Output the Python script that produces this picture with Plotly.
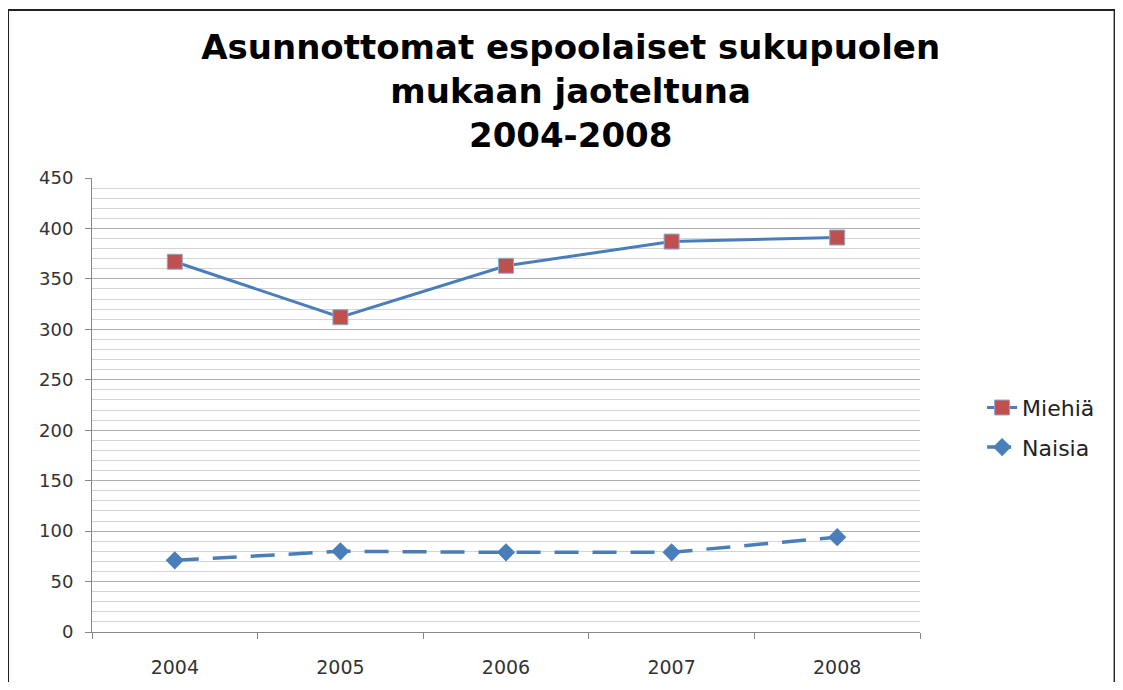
import plotly.graph_objects as go

years = ["2004", "2005", "2006", "2007", "2008"]
miehia = [367, 312, 363, 387, 391]
naisia = [71, 80, 79, 79, 94]

title_text = "Asunnottomat espoolaiset sukupuolen<br>mukaan jaoteltuna<br>2004-2008"

blue = "#4A7EBB"
red = "#C0504D"

fig = go.Figure()
fig.add_trace(go.Scatter(
    x=years, y=miehia, name="Miehiä", mode="lines+markers", legendgroup="m",
    line=dict(color=blue, width=3),
    marker=dict(symbol="square", size=15, color=red, line=dict(color="#8EA9D6", width=1)),
))
fig.add_trace(go.Scatter(
    x=years, y=naisia, name="Naisia", mode="lines+markers", legendgroup="n",
    line=dict(color=blue, width=3.5, dash="24px,14px"),
    marker=dict(symbol="diamond", size=14, color=blue),
))

fig.update_layout(
    width=1112, height=674,
    paper_bgcolor="white", plot_bgcolor="white",
    margin=dict(l=84, r=200, t=170, b=50),
    title=dict(text=title_text, x=0.506, xanchor="center", y=0.925, yanchor="top",
               font=dict(family="DejaVu Sans", size=34, color="black", weight="bold")),
    font=dict(family="DejaVu Sans", size=18, color="#333333"),
    showlegend=True,
    legend=dict(x=1.075, y=0.45, xanchor="left", yanchor="middle",
                bgcolor="rgba(0,0,0,0)", traceorder="grouped",
                font=dict(size=22, color="#222222"), tracegroupgap=8),
    xaxis=dict(type="category", range=[-0.5, 4.5], tickson="boundaries", automargin=False,
               ticks="outside", ticklen=6, ticklabelstandoff=18,
               tickcolor="#888888", showline=True, linecolor="#888888", linewidth=1,
               showgrid=False, tickfont=dict(size=19, color="#333333")),
    yaxis=dict(range=[0, 450], dtick=50, ticks="outside", ticklen=6, tickcolor="#888888",
               ticklabelstandoff=8, automargin=False,
               showline=True, linecolor="#888888", linewidth=1,
               showgrid=True, gridcolor="#B0B0B0", gridwidth=1,
               minor=dict(dtick=10, showgrid=True, gridcolor="#D4D4D4", gridwidth=1),
               zeroline=False, tickfont=dict(size=18, color="#333333")),
)

fig.add_shape(type="rect", xref="paper", yref="paper",
              x0=-0.1014, x1=1.235, y0=-0.16, y1=1.370,
              line=dict(color="#222222", width=2), fillcolor="rgba(0,0,0,0)", layer="below")

fig.write_html("out.html")
